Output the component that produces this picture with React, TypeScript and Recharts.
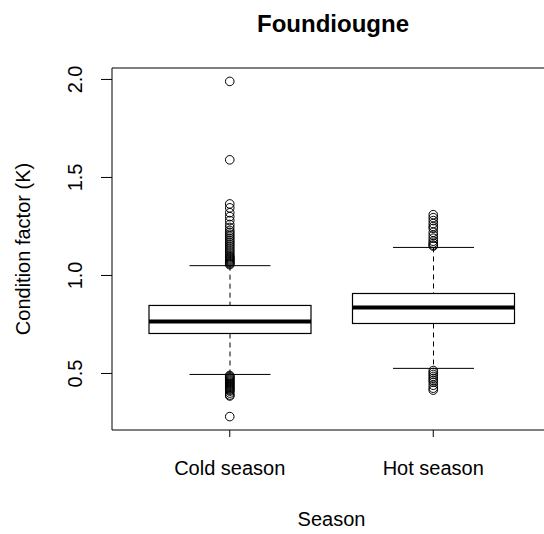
import React from 'react';
import { ComposedChart, Bar, Scatter, XAxis, YAxis, ReferenceLine } from 'recharts';

const categories = ['Cold season', 'Hot season'];
const whiskerLow = [0.495, 0.526];
const q1 = [0.704, 0.755];
const median = [0.765, 0.837];
const q3 = [0.847, 0.908];
const whiskerHigh = [1.05, 1.143];

const coldOutliers = [
  1.99, 1.59, 1.365, 1.345, 1.32, 1.3, 1.28, 1.26, 1.245, 1.23, 1.22, 1.21, 1.2, 1.19, 1.18,
  1.17, 1.16, 1.15, 1.14, 1.13, 1.12, 1.11, 1.1, 1.095, 1.09, 1.085, 1.08, 1.075, 1.07, 1.065,
  1.06, 1.055,
  0.49, 0.485, 0.48, 0.475, 0.47, 0.465, 0.46, 0.455, 0.45, 0.445, 0.44, 0.435, 0.43, 0.425,
  0.42, 0.415, 0.41, 0.4, 0.39, 0.385, 0.28,
];
const hotOutliers = [
  1.31, 1.295, 1.28, 1.265, 1.25, 1.24, 1.22, 1.205, 1.19, 1.175, 1.165, 1.155, 1.15,
  0.515, 0.505, 0.495, 0.485, 0.475, 0.465, 0.455, 0.44, 0.425, 0.415,
];

const yTicks = [0.5, 1.0, 1.5, 2.0];
const yDomain = [0.2116, 2.0584];

const FONT = '"Liberation Sans", Arial, sans-serif';

const data = categories.map((name, i) => ({
  name,
  lo: whiskerLow[i],
  q1: q1[i],
  med: median[i],
  q3: q3[i],
  hi: whiskerHigh[i],
  range: [whiskerLow[i], whiskerHigh[i]],
}));

const outlierData = [
  ...coldOutliers.map((k) => ({ name: categories[0], k })),
  ...hotOutliers.map((k) => ({ name: categories[1], k })),
];

const BoxShape = (props: any) => {
  const { x, y, width, height, payload } = props;
  const lo = payload.lo;
  const hi = payload.hi;
  const py = (v: number) => y + ((hi - v) / (hi - lo)) * height;
  const cx = x + width / 2;
  const capHalf = width / 4;
  const yq1 = py(payload.q1);
  const yq3 = py(payload.q3);
  const ymed = py(payload.med);
  return (
    <g>
      <line x1={cx} x2={cx} y1={y} y2={yq3} stroke="#000" strokeWidth={1} strokeDasharray="5,4" />
      <line x1={cx} x2={cx} y1={yq1} y2={y + height} stroke="#000" strokeWidth={1} strokeDasharray="5,4" />
      <line x1={cx - capHalf} x2={cx + capHalf} y1={y} y2={y} stroke="#000" strokeWidth={1} />
      <line x1={cx - capHalf} x2={cx + capHalf} y1={y + height} y2={y + height} stroke="#000" strokeWidth={1} />
      <rect x={x} y={yq3} width={width} height={yq1 - yq3} fill="#fff" stroke="#000" strokeWidth={1.2} />
      <line x1={x} x2={x + width} y1={ymed} y2={ymed} stroke="#000" strokeWidth={4} />
    </g>
  );
};

const OutlierShape = (props: any) => {
  const { cx, cy } = props;
  return <circle cx={cx} cy={cy} r={4.3} fill="none" stroke="#000" strokeWidth={1} />;
};

const XTick = (props: any) => {
  const { x, y, payload } = props;
  return (
    <text x={x} y={y + 38} textAnchor="middle" fontFamily={FONT} fontSize={20} fill="#000">
      {payload.value}
    </text>
  );
};

const YTick = (props: any) => {
  const { x, y, payload } = props;
  const tx = x - 19;
  return (
    <text
      x={tx}
      y={y}
      textAnchor="middle"
      transform={`rotate(-90, ${tx}, ${y})`}
      fontFamily={FONT}
      fontSize={20}
      fill="#000"
    >
      {Number(payload.value).toFixed(1)}
    </text>
  );
};

export default function App() {
  return (
    <div
      style={{
        position: 'absolute',
        left: 0,
        top: 0,
        width: 544,
        height: 534,
        overflow: 'hidden',
        background: '#fff',
      }}
    >
      <ComposedChart
        width={552}
        height={534}
        data={data}
        margin={{ top: 68, right: 1, bottom: 0, left: 0 }}
        barSize={162}
      >
        <XAxis
          dataKey="name"
          type="category"
          allowDuplicatedCategory={false}
          padding={{ left: 16, right: 16 }}
          height={104}
          tickSize={7}
          tickMargin={0}
          tickLine={{ stroke: '#000' }}
          axisLine={{ stroke: '#000' }}
          tick={<XTick />}
          interval={0}
        />
        <YAxis
          type="number"
          domain={yDomain}
          allowDataOverflow
          ticks={yTicks}
          width={112}
          tickSize={11}
          tickMargin={0}
          tickLine={{ stroke: '#000' }}
          axisLine={{ stroke: '#000' }}
          tick={<YTick />}
          interval={0}
        />
        <ReferenceLine y={yDomain[1]} stroke="#000" strokeWidth={1} ifOverflow="extendDomain" />
        <Bar dataKey="range" shape={<BoxShape />} isAnimationActive={false} />
        <Scatter data={outlierData} dataKey="k" shape={<OutlierShape />} isAnimationActive={false} />
        <text x={333} y={32} textAnchor="middle" fontFamily={FONT} fontSize={24} fontWeight="bold" fill="#000">
          Foundiougne
        </text>
        <text x={331.5} y={526} textAnchor="middle" fontFamily={FONT} fontSize={20} fill="#000">
          Season
        </text>
        <text
          x={30}
          y={249}
          textAnchor="middle"
          transform="rotate(-90, 30, 249)"
          fontFamily={FONT}
          fontSize={20}
          fill="#000"
        >
          Condition factor (K)
        </text>
      </ComposedChart>
    </div>
  );
}
